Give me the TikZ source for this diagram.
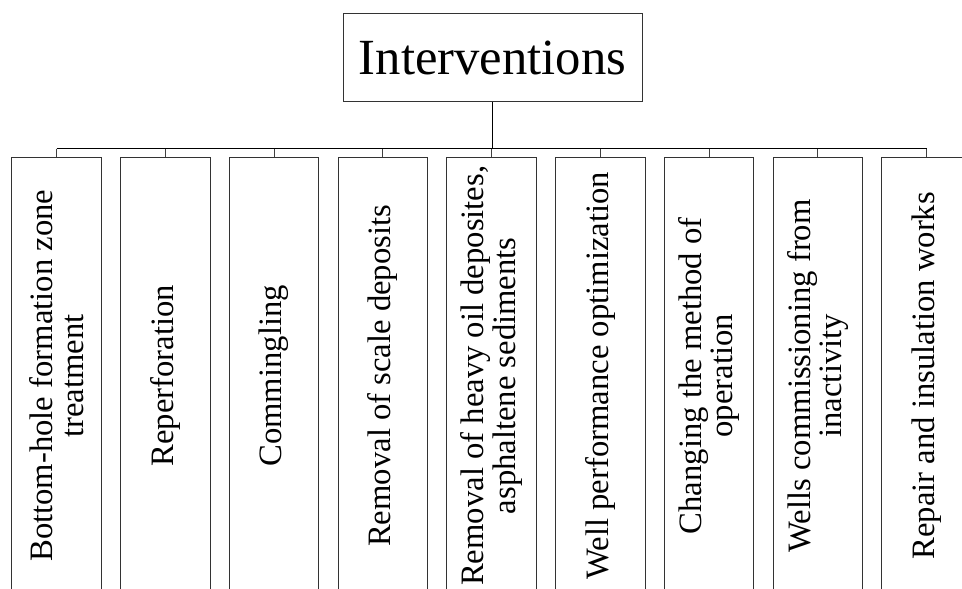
\documentclass[tikz,border=0pt]{standalone}
\usepackage{fontspec}
\setmainfont{Liberation Serif}
\begin{document}
\begin{tikzpicture}[x=0.75pt,y=-0.75pt,
  leaf/.style={draw=black!80, line width=0.75pt, rotate=90, inner sep=0pt,
    minimum width=327pt, minimum height=67.1pt, align=center,
    font=\fontsize{24.5}{23.5}\selectfont},
  root/.style={draw=black!80, line width=0.75pt, inner sep=0pt,
    minimum width=224.25pt, minimum height=66pt,
    font=\fontsize{38}{40}\selectfont},
  bus/.style={draw=black, line width=1.4pt},
  tick/.style={draw=black!75, line width=0.75pt}]
\useasboundingbox (0,0) rectangle (962,588);
\clip (0,0) rectangle (962,588);
\node[root] (top) at (492.5,58) {Interventions};
\coordinate (bus) at (0,148.5);
\node[leaf] (b1) at (56.6,375.8) {Bottom-hole formation zone\\treatment};
\node[leaf] (b2) at (165.35,375.8) {Reperforation};
\node[leaf] (b3) at (274.1,375.8) {Commingling};
\node[leaf] (b4) at (382.85,375.8) {Removal of scale deposits};
\node[leaf] (b5) at (491.6,375.8) {Removal of heavy oil deposites,\\asphaltene sediments};
\node[leaf] (b6) at (600.35,375.8) {Well performance optimization};
\node[leaf] (b7) at (709.1,375.8) {Changing the method of\\operation};
\node[leaf] (b8) at (817.85,375.8) {Wells commissioning from\\inactivity};
\node[leaf] (b9) at (926.6,375.8) {Repair and insulation works};
\draw[bus] (top.south) -- (top.south |- bus);
\draw[bus] (b1.east |- bus) -- (b9.east |- bus);
\foreach \b in {b1,b2,b3,b4,b5,b6,b7,b8,b9}
  \draw[tick] (\b.east |- bus) -- (\b.east);
\end{tikzpicture}
\end{document}
